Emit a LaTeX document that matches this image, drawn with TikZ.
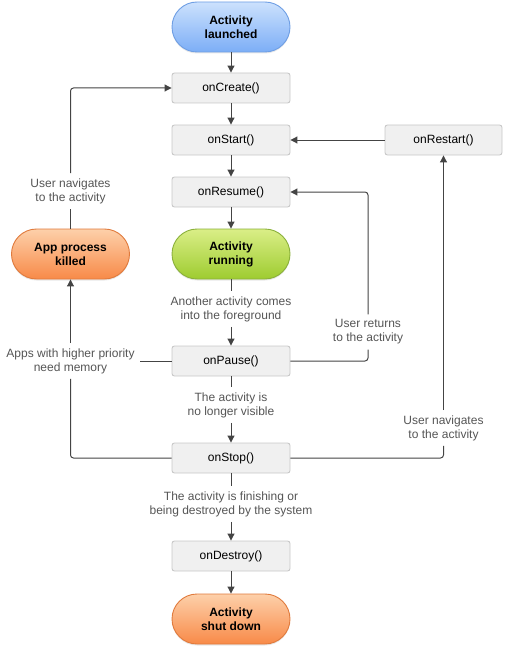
\documentclass[tikz,border=0pt]{standalone}
\usepackage{fontspec}
\setmainfont{Liberation Sans}
\usepackage{tikz}
\usetikzlibrary{positioning,arrows.meta,shadows}

\definecolor{boxfill}{RGB}{240,240,240}
\definecolor{boxline}{RGB}{200,200,200}
\definecolor{wire}{RGB}{68,68,68}
\definecolor{notegray}{RGB}{85,85,85}
\definecolor{blueTop}{RGB}{204,225,253}
\definecolor{blueBot}{RGB}{124,174,246}
\definecolor{blueLine}{RGB}{110,158,228}
\definecolor{greenTop}{RGB}{218,238,135}
\definecolor{greenBot}{RGB}{158,204,48}
\definecolor{greenLine}{RGB}{138,176,58}
\definecolor{orangeTop}{RGB}{253,208,170}
\definecolor{orangeBot}{RGB}{248,138,72}
\definecolor{orangeLine}{RGB}{224,122,60}

\tikzset{
  callback/.style={draw=boxline, fill=boxfill, rounded corners=2.5pt, line width=0.9pt,
    minimum width=118pt, minimum height=30pt, inner sep=0pt,
    font=\fontsize{12}{14}\selectfont},
  state/.style={rounded corners=25pt, line width=0.9pt, minimum width=118pt, minimum height=50pt,
    inner sep=0pt, align=center, font=\fontsize{12}{14}\selectfont\bfseries,
    drop shadow={opacity=0.18, shadow xshift=0pt, shadow yshift=-1.5pt}},
  launchstate/.style={state, draw=blueLine, top color=blueTop, bottom color=blueBot},
  runstate/.style={state, draw=greenLine, top color=greenTop, bottom color=greenBot},
  endstate/.style={state, draw=orangeLine, top color=orangeTop, bottom color=orangeBot},
  note/.style={text=notegray, align=center, inner sep=5pt, font=\fontsize{12}{14}\selectfont},
  wireline/.style={draw=wire, line width=1pt, rounded corners=3pt},
  flow/.style={wireline, -{Triangle[length=7pt,width=7pt]}},
}

\begin{document}
\begin{tikzpicture}[x=1pt,y=-1pt]
\useasboundingbox (0,0) rectangle (515,658);

%States
\node[launchstate] (launched) at (231,27) {Activity\\launched};
\node[runstate] (running) at (231,254) {Activity\\running};
\node[endstate] (killed) at (70.5,254) {App process\\killed};
\node[endstate] (shutdown) at (231,619) {Activity\\shut down};

%Callbacks
\node[callback] (onCreate) at (231,88) {onCreate()};
\node[callback] (onStart) at (231,140) {onStart()};
\node[callback] (onResume) at (231,192) {onResume()};
\node[callback] (onPause) at (231,361) {onPause()};
\node[callback] (onStop) at (231,458) {onStop()};
\node[callback] (onDestroy) at (231,556) {onDestroy()};
\node[callback, minimum width=117pt] (onRestart) at (443.5,140) {onRestart()};

% Text Node
\node[note] (navLeft) at (70.5,191) {User navigates\\to the activity};
\node[note] (appsNeed) at (70.5,361) {Apps with higher priority\\need memory};
\node[note] (another) at (231,309) {Another activity comes\\into the foreground};
\node[note] (userBack) at (368,332) {User returns\\to the activity};
\node[note] (noVisible) at (231,405) {The activity is\\no longer visible};
\node[note] (navRight) at (443.5,428) {User navigates\\to the activity};
\node[note] (finishing) at (231,504) {The activity is finishing or\\being destroyed by the system};

%Straight Lines
\draw[flow] (launched) -- (onCreate);
\draw[flow] (onCreate) -- (onStart);
\draw[flow] (onStart) -- (onResume);
\draw[flow] (onResume) -- (running);
\draw[wireline] (running) -- (another);
\draw[flow] (another) -- (onPause);
\draw[wireline] (onPause) -- (noVisible);
\draw[flow] (noVisible) -- (onStop);
\draw[wireline] (onStop) -- (finishing);
\draw[flow] (finishing) -- (onDestroy);
\draw[flow] (onDestroy) -- (shutdown);

%Loop Lines
\draw[wireline] (killed.north) -- (navLeft.south);
\draw[flow] (navLeft.north) |- (onCreate.west);
\draw[wireline] (onPause.west) -- (appsNeed.east);
\draw[wireline] (onStop.west) -| (appsNeed.south);
\draw[flow] (appsNeed.north) -- (killed.south);
\draw[wireline] (onPause.east) -| (userBack.south);
\draw[flow] (userBack.north) |- (onResume.east);
\draw[wireline] (onStop.east) -| (navRight.south);
\draw[flow] (navRight.north) -- (onRestart.south);
\draw[flow] (onRestart.west) -- (onStart.east);
\end{tikzpicture}
\end{document}
